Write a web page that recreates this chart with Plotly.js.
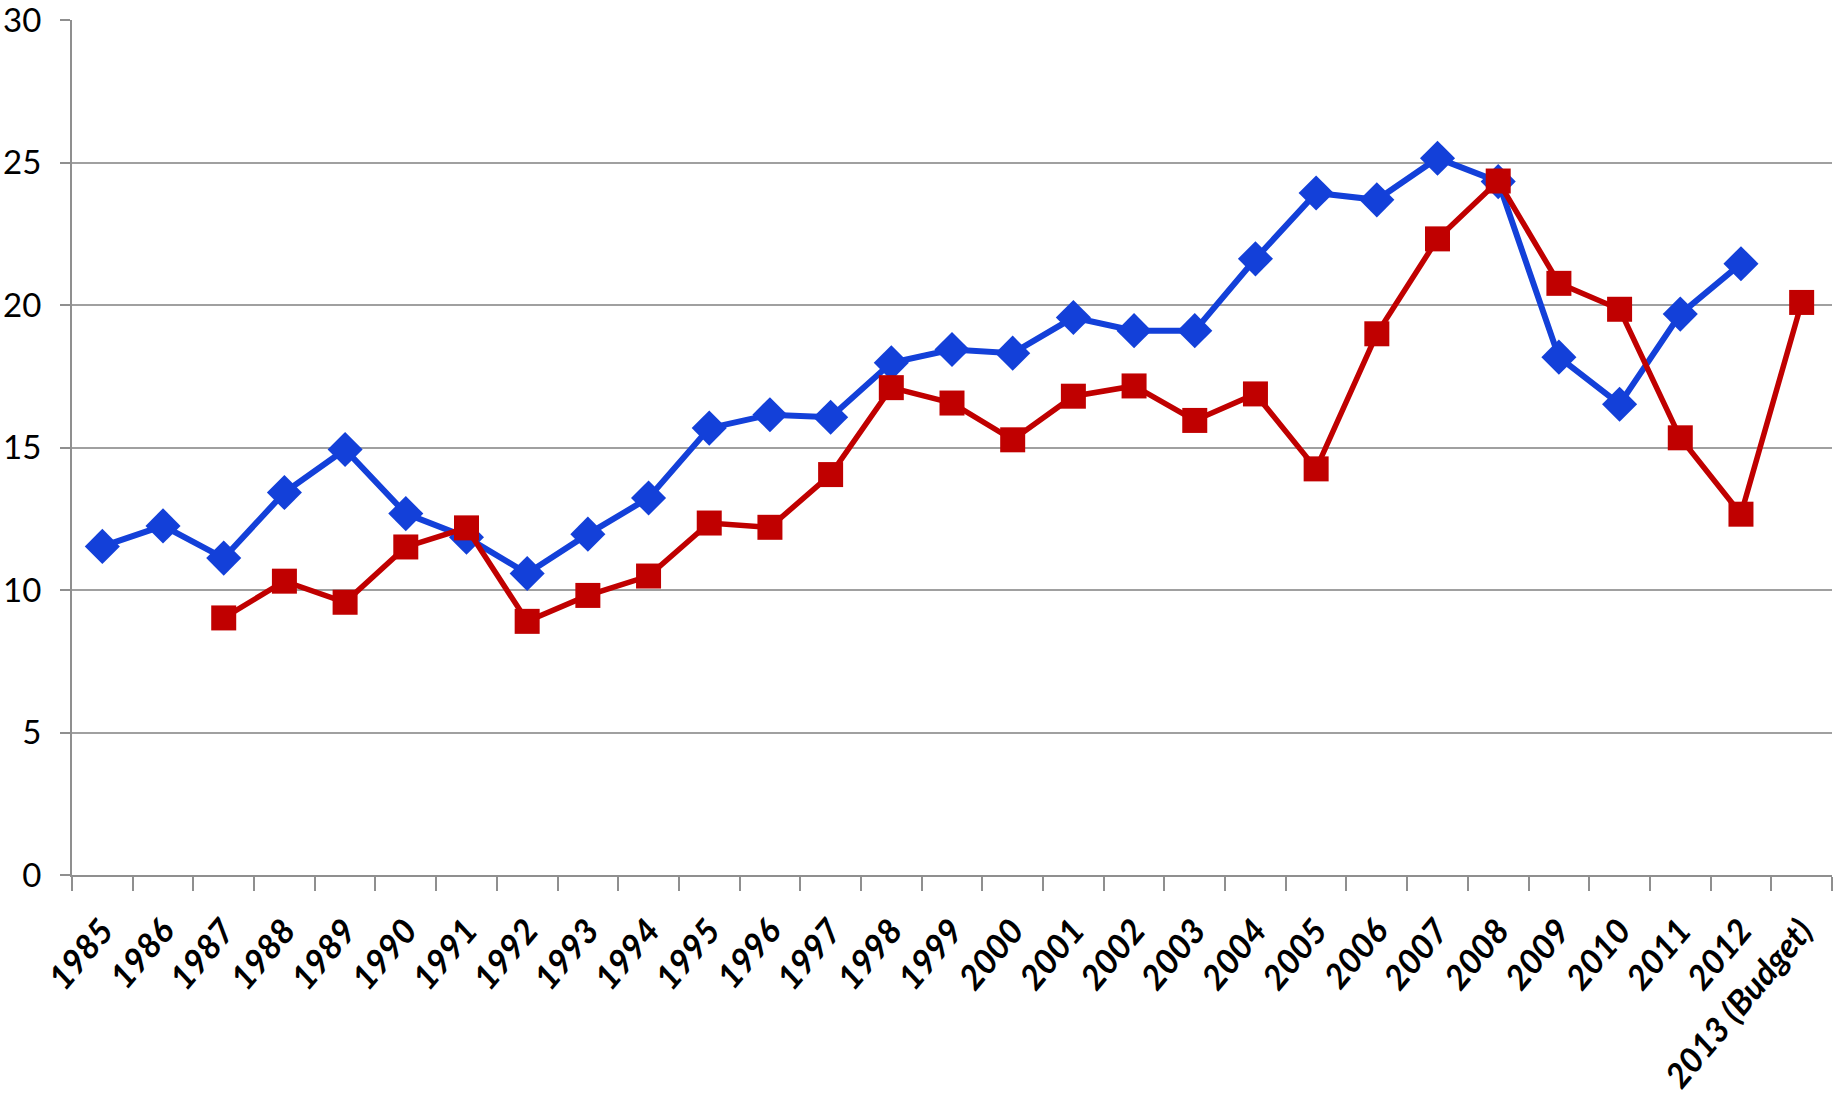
<!DOCTYPE html>
<html>
<head>
<meta charset="utf-8">
<script src="https://cdn.plot.ly/plotly-3.0.1.min.js"></script>
<style>
  html, body { margin: 0; padding: 0; background: #fff; }
  #chart { width: 1841px; height: 1116px; }
</style>
</head>
<body>
<div id="chart"></div>
<script>
const years = ['1985', '1986', '1987', '1988', '1989', '1990', '1991', '1992', '1993', '1994',
    '1995', '1996', '1997', '1998', '1999', '2000', '2001', '2002', '2003', '2004',
    '2005', '2006', '2007', '2008', '2009', '2010', '2011', '2012', '2013 (Budget)']

const blueValues = [11.53, 12.25, 11.12, 13.42, 14.93, 12.68, 11.85, 10.58, 11.96, 13.23,
    15.68, 16.15, 16.06, 17.97, 18.44, 18.31, 19.56, 19.1, 19.1, 21.62,
    23.93, 23.69, 25.15, 24.33, 18.17, 16.52, 19.68, 21.45, null]

const redValues = [null, null, 9.02, 10.31, 9.57, 11.51, 12.18, 8.9, 9.81, 10.49,
    12.35, 12.2, 14.05, 17.1, 16.56, 15.27, 16.8, 17.16, 15.95, 16.88,
    14.25, 18.99, 22.32, 24.35, 20.76, 19.85, 15.34, 12.66, 20.09]

const yTicks = [0, 5, 10, 15, 20, 25, 30]

const grey = '#8f8f8f'

let data = [
    {
        x: years,
        y: blueValues,
        type: 'scatter',
        mode: 'lines+markers',
        name: 'blue',
        cliponaxis: false,
        line: { color: '#1340d9', width: 6 },
        marker: { symbol: 'diamond', size: 27, color: '#1340d9' }
    },
    {
        x: years,
        y: redValues,
        type: 'scatter',
        mode: 'lines+markers',
        name: 'red',
        cliponaxis: false,
        line: { color: '#c00000', width: 5.5 },
        marker: { symbol: 'square', size: 25, color: '#c00000' }
    }
]

let layout = {
    width: 1841,
    height: 1116,
    margin: { l: 72, r: 9, t: 20, b: 241 },
    paper_bgcolor: '#ffffff',
    plot_bgcolor: '#ffffff',
    showlegend: false,
    font: { family: 'Lato, "Liberation Sans", sans-serif', color: '#000000' },
    xaxis: {
        type: 'category',
        categoryorder: 'array',
        categoryarray: years,
        range: [-0.5, years.length - 0.5],
        showgrid: false,
        showline: true,
        linecolor: grey,
        linewidth: 2,
        ticks: 'outside',
        tickson: 'boundaries',
        ticklen: 14,
        tickwidth: 2,
        tickcolor: grey,
        tickangle: -50,
        ticklabelstandoff: 20,
        tickfont: { size: 34, family: 'Lato', weight: 'bold', style: 'italic' },
        zeroline: false
    },
    yaxis: {
        range: [0, 30],
        tickvals: yTicks,
        ticktext: yTicks.map(String),
        ticklabeloverflow: 'allow',
        showgrid: true,
        gridcolor: '#a0a0a0',
        gridwidth: 2,
        showline: true,
        linecolor: grey,
        linewidth: 2,
        ticks: 'outside',
        ticklen: 10,
        tickwidth: 2,
        tickcolor: grey,
        ticklabelstandoff: 12,
        tickfont: { size: 33, family: 'Lato, sans-serif' },
        zeroline: false
    }
}

Plotly.newPlot('chart', data, layout, { displayModeBar: false, staticPlot: true })
</script>
</body>
</html>
